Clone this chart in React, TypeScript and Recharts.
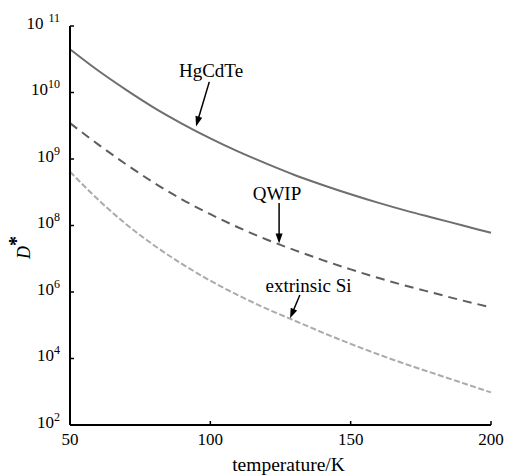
import React from 'react';
import { LineChart, Line, XAxis, YAxis, ReferenceLine, ReferenceDot } from 'recharts';

// Temperatures (K)
const temperatures = [50, 60, 70, 80, 90, 100, 110, 120, 130, 140, 150, 160, 170, 180, 190, 200];
// log10(D*)
const hgcdteExp = [10.65, 10.33, 10.04, 9.77, 9.53, 9.31, 9.11, 8.93, 8.76, 8.61, 8.47, 8.34, 8.22, 8.11, 8.0, 7.78];
const qwipExp = [9.54, 9.22, 8.92, 8.64, 8.39, 8.17, 7.94, 7.58, 7.26, 6.96, 6.68, 6.42, 6.18, 5.96, 5.74, 5.54];
const siExp = [8.81, 8.39, 8.02, 7.4, 6.84, 6.34, 5.9, 5.5, 5.14, 4.78, 4.44, 4.12, 3.82, 3.54, 3.26, 2.98];

// Axis tick labels (exponents of 10), one per evenly spaced tick
const yTickExponents = ['2', '4', '6', '8', '9', '10', '11'];
const xTicks = [50, 100, 150, 200];

// Annotations in axis units (temperature, tick index)
const annotationTexts = ['HgCdTe', 'QWIP', 'extrinsic Si'];
const annotationTextPos = [
  [100.25, 5.23],
  [123.75, 3.38],
  [134.97, 2.0],
];
const annotationArrows = [
  [99.63, 5.16, 94.9, 4.49],
  [124.5, 3.34, 124.5, 2.73],
  [131.9, 1.955, 128.4, 1.604],
];

// The vertical axis is uneven: 10^2..10^8 every two decades, 10^8..10^11 every decade
const axisPos = (e: number) => (e >= 8 ? e - 5 : (e - 2) / 2);

const data = temperatures.map((t, i) => ({
  t,
  hgcdte: axisPos(hgcdteExp[i]),
  qwip: axisPos(qwipExp[i]),
  si: axisPos(siExp[i]),
}));

const FONT = 'Liberation Serif';

const YTick = (props: any) => {
  const { x, y, payload } = props;
  const exp = yTickExponents[Math.round(payload.value)];
  return (
    <text x={x} y={y + 2.5} textAnchor="end" fontFamily={FONT} fontSize={17} fill="#000">
      <tspan fontFamily={FONT}>10</tspan>
      <tspan fontFamily={FONT} dx={exp === '11' ? 5 : 0} dy={-7} fontSize={12}>{exp}</tspan>
    </text>
  );
};

const DStarLabel = (props: any) => {
  const vb = props.viewBox || { x: 0, y: 26 };
  const bx = vb.x + 30;
  const by = vb.y + 233;
  return (
    <text transform={`translate(${bx}, ${by}) rotate(-90)`} fontFamily={FONT} fill="#000">
      <tspan fontFamily={FONT} fontSize={18} fontStyle="italic">D</tspan>
      <tspan fontFamily={FONT} fontSize={20} dy={-7} fontWeight="bold">*</tspan>
    </text>
  );
};

const Arrow = (props: any) => {
  const { x1, y1, x2, y2 } = props;
  const dx = x2 - x1;
  const dy = y2 - y1;
  const len = Math.sqrt(dx * dx + dy * dy) || 1;
  const ux = dx / len;
  const uy = dy / len;
  const head = 10;
  const hw = 3.5;
  const bx = x2 - ux * head;
  const by = y2 - uy * head;
  const px = -uy;
  const py = ux;
  return (
    <g>
      <line x1={x1} y1={y1} x2={bx + ux * 2} y2={by + uy * 2} stroke="#000" strokeWidth={1.5} />
      <polygon
        points={`${x2},${y2} ${bx + px * hw},${by + py * hw} ${bx - px * hw},${by - py * hw}`}
        fill="#000"
      />
    </g>
  );
};

const AnnotationText = (props: any) => (
  <text x={props.cx} y={props.cy} textAnchor="middle" fontFamily={FONT} fontSize={19} fill="#000">
    {props.txt}
  </text>
);

export default function App() {
  return (
    <div style={{ position: 'absolute', left: 0, top: 0, fontFamily: FONT }}>
      <LineChart
        width={507}
        height={475}
        data={data}
        margin={{ top: 26, right: 16, bottom: 0, left: 0 }}
        style={{ background: '#fff' }}
      >
        <XAxis
          dataKey="t"
          type="number"
          domain={[50, 200]}
          ticks={xTicks}
          interval={0}
          height={50}
          tickSize={-4}
          tickMargin={12}
          axisLine={{ stroke: '#000', strokeWidth: 2 }}
          tickLine={{ stroke: '#000', strokeWidth: 1.5 }}
          tick={{ fill: '#000', fontSize: 17, fontFamily: FONT }}
          label={{
            value: 'temperature/K',
            position: 'insideBottom',
            offset: 4,
            dx: 8,
            fill: '#000',
            fontSize: 19.5,
            fontFamily: FONT,
          }}
        />
        <YAxis
          type="number"
          domain={[0, 6]}
          ticks={[0, 1, 2, 3, 4, 5, 6]}
          interval={0}
          width={70}
          tickSize={-4}
          tickMargin={14}
          axisLine={{ stroke: '#000', strokeWidth: 2 }}
          tickLine={{ stroke: '#000', strokeWidth: 1.5 }}
          tick={<YTick />}
          label={{ content: (p: any) => <DStarLabel {...p} /> }}
        />
        <Line
          dataKey="hgcdte"
          type="monotone"
          stroke="#6e6e6e"
          strokeWidth={2}
          dot={false}
          activeDot={false}
          isAnimationActive={false}
        />
        <Line
          dataKey="qwip"
          type="monotone"
          stroke="#5e5e5e"
          strokeWidth={2}
          strokeDasharray="9 6"
          dot={false}
          activeDot={false}
          isAnimationActive={false}
        />
        <Line
          dataKey="si"
          type="monotone"
          stroke="#ababab"
          strokeWidth={2}
          strokeDasharray="6 2.5"
          dot={false}
          activeDot={false}
          isAnimationActive={false}
        />
        {annotationArrows.map((a, i) => (
          <ReferenceLine
            key={`arrow-${i}`}
            segment={[
              { x: a[0], y: a[1] },
              { x: a[2], y: a[3] },
            ]}
            shape={(p: any) => <Arrow {...p} />}
          />
        ))}
        {annotationTexts.map((txt, i) => (
          <ReferenceDot
            key={`txt-${i}`}
            x={annotationTextPos[i][0]}
            y={annotationTextPos[i][1]}
            r={0}
            shape={(p: any) => <AnnotationText {...p} txt={txt} />}
          />
        ))}
      </LineChart>
    </div>
  );
}
